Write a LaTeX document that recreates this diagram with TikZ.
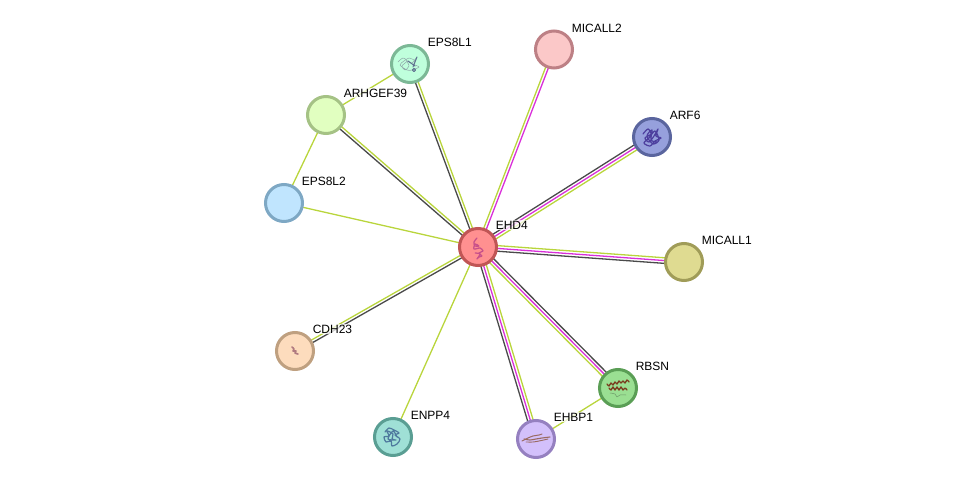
\documentclass[tikz,border=0pt]{standalone}
\usepackage{fontspec}
\setmainfont{Liberation Sans}
\usetikzlibrary{calc,backgrounds}
\definecolor{edark}{HTML}{4A4A4A}
\definecolor{emag}{HTML}{D92FD9}
\definecolor{eoli}{HTML}{B9D53C}
\definecolor{fa}{HTML}{FF9090}\definecolor{ba}{HTML}{C05555}
\definecolor{fb}{HTML}{BFFFDC}\definecolor{bb}{HTML}{7CB896}
\definecolor{fc}{HTML}{FBC8C8}\definecolor{bc}{HTML}{BD8085}
\definecolor{fd}{HTML}{96A0DC}\definecolor{bd}{HTML}{5A659E}
\definecolor{fe}{HTML}{E1FFC0}\definecolor{be}{HTML}{A5C285}
\definecolor{ff}{HTML}{C0E5FE}\definecolor{bf}{HTML}{7EA8C4}
\definecolor{fg}{HTML}{DFDB91}\definecolor{bg}{HTML}{A09C58}
\definecolor{fh}{HTML}{9ADF92}\definecolor{bh}{HTML}{5A9E55}
\definecolor{fi}{HTML}{D3C0FB}\definecolor{bi}{HTML}{9580C0}
\definecolor{fj}{HTML}{9FE0D6}\definecolor{bj}{HTML}{5A9E93}
\definecolor{fk}{HTML}{FDDCBD}\definecolor{bk}{HTML}{BFA080}
\definecolor{sa}{HTML}{C8508A}\definecolor{sb}{HTML}{8FA6A8}\definecolor{sc}{HTML}{5F7290}
\definecolor{sd}{HTML}{4D3F9E}\definecolor{se}{HTML}{7A3B1E}\definecolor{sf}{HTML}{6E9A6A}
\definecolor{sg}{HTML}{9A6A62}\definecolor{sh}{HTML}{4F7A9E}\definecolor{si}{HTML}{B07A80}
\tikzset{
  prot/.style 2 args={circle,draw=#2,fill=#1,line width=3pt,minimum size=37pt,inner sep=0pt,outer sep=0pt},
  lab/.style={anchor=west,inner sep=0.6pt,fill=white,fill opacity=0.75,text opacity=1,font=\fontsize{12}{12}\selectfont,text=black},
  scrib/.style={line width=0.5pt,line join=round,line cap=round}
}
\newcommand{\edg}[4]{\draw[#3,line width=1.3pt] ($(#1)!#4pt!90:(#2)$) -- ($(#2)!#4pt!-90:(#1)$);}
\begin{document}
\begin{tikzpicture}[x=1pt,y=-1pt]
\useasboundingbox (0,0) rectangle (975,484);
\node[prot={fa}{ba}] (ehd) at (478,247) {};
\node[prot={fb}{bb}] (eps1) at (410,64) {};
\node[prot={fc}{bc}] (mic2) at (554,49.5) {};
\node[prot={fd}{bd}] (arf) at (652,137) {};
\node[prot={fe}{be}] (arh) at (326,115) {};
\node[prot={ff}{bf}] (eps2) at (284,203) {};
\node[prot={fg}{bg}] (mic1) at (684,262) {};
\node[prot={fh}{bh}] (rbs) at (618,388) {};
\node[prot={fi}{bi}] (ehb) at (536,439) {};
\node[prot={fj}{bj}] (enp) at (393,437) {};
\node[prot={fk}{bk}] (cdh) at (295,351) {};
\begin{pgfonlayer}{background}
\edg{eps1}{arh}{eoli}{0}
\edg{arh}{eps2}{eoli}{0}
\edg{rbs}{ehb}{eoli}{0}
\edg{ehd}{eps2}{eoli}{0}
\edg{ehd}{enp}{eoli}{0}
\edg{ehd}{arh}{edark}{1.4}
\edg{ehd}{arh}{eoli}{-1.4}
\edg{ehd}{eps1}{edark}{1.4}
\edg{ehd}{eps1}{eoli}{-1.4}
\edg{ehd}{mic2}{eoli}{1.4}
\edg{ehd}{mic2}{emag}{-1.4}
\edg{ehd}{cdh}{eoli}{-1.4}
\edg{ehd}{cdh}{edark}{1.4}
\edg{ehd}{arf}{edark}{2.8}
\edg{ehd}{arf}{emag}{0}
\edg{ehd}{arf}{eoli}{-2.8}
\edg{ehd}{mic1}{eoli}{2.8}
\edg{ehd}{mic1}{emag}{0}
\edg{ehd}{mic1}{edark}{-2.8}
\edg{ehd}{rbs}{edark}{2.8}
\edg{ehd}{rbs}{emag}{0}
\edg{ehd}{rbs}{eoli}{-2.8}
\edg{ehd}{ehb}{edark}{-2.8}
\edg{ehd}{ehb}{emag}{0}
\edg{ehd}{ehb}{eoli}{2.8}
\end{pgfonlayer}
% protein glyphs
\draw[scrib,color=sa,line width=1.3pt,dash pattern=on 1.2pt off 0.5pt,shift={(478,248)}] plot[smooth] coordinates {(-1,-10)(-4,-6)(-3,-2)(1,-2)(-3,-4)(-4,1)(2,0)(5,3)(1,5)(4,8)(1,9)(-1,11)(2,6)(-3,5)};
\draw[scrib,color=sb,shift={(410,64)}] plot[smooth] coordinates {(-12,-2)(-7,-6)(-3,-3)(-8,2)(-5,6)(-1,2)(-3,-3)(2,-1)(7,-7)(4,0)(9,3)(2,6)(-3,6)(-10,1)(-6,-3)(-1,-6)(4,-4)};
\draw[scrib,color=sc,line width=1pt,shift={(410,64)}] (-2,-3) -- (5,2) (7,-7) -- (3,3) (4,6) circle (1.6);
\draw[scrib,color=sd,line width=1.2pt,shift={(652,137)}] plot[smooth] coordinates {(-9,-3)(-4,-8)(-1,-3)(-7,1)(-3,5)(2,-1)(6,-8)(4,-1)(9,1)(3,4)(-2,9)(-8,6)(-3,1)(3,-6)(7,3)(1,7)(-5,-1)(0,-7)(-1,3)(5,5)};
\draw[scrib,color=se,line width=1.3pt,shift={(618,388)}] plot[smooth] coordinates {(-11,-4)(-9,-2)(-7,-5)(-5,-3)(-3,-6)(-1,-4)(1,-7)(3,-5)(5,-7)(7,-5)(9,-8)(11,-6)};
\draw[scrib,color=se,line width=1.3pt,shift={(618,388)}] plot[smooth] coordinates {(-9,0)(-7,2)(-5,-1)(-3,2)(-1,-1)(1,2)(3,-1)(5,2)(7,0)(9,2)};
\draw[scrib,color=sf,shift={(618,388)}] plot[smooth] coordinates {(-8,5)(-3,6)(-1,9)(2,7)(8,7)};
\draw[scrib,color=sg,line width=1pt,shift={(536,439)}] plot[smooth] coordinates {(-14,2)(-8,-1)(-3,-3)(3,-4)(6,-5)};
\draw[scrib,color=sg,line width=1.1pt,shift={(536,439)}] plot[smooth] coordinates {(-12,0)(-6,1)(0,0)(6,-1)(14,-2)};
\draw[scrib,color=sg,line width=0.9pt,shift={(536,439)}] plot[smooth] coordinates {(-10,3)(-3,3)(3,2)(12,0)};
\draw[scrib,color=sh,line width=1.2pt,shift={(392,436)}] plot[smooth] coordinates {(-7,-4)(-3,-8)(2,-6)(7,-3)(3,-1)(8,3)(5,8)(0,10)(-1,5)(-6,6)(-8,1)(-3,0)(-5,-5)(1,-2)(0,3)(4,4)(-4,3)(1,-5)(5,1)};
\draw[scrib,color=si,line width=1.6pt,shift={(295,351)}] plot[smooth] coordinates {(-3,-4)(-1,-2)(-2,0)(1,0)(0,2)(3,3)};
% labels
\node[lab] (lehd) at (495,225) {EHD4};
\node[lab] (leps1) at (427,42) {EPS8L1};
\node[lab] (lmic2) at (571,28) {MICALL2};
\node[lab] (larf) at (669,115) {ARF6};
\node[lab] (larh) at (343,93) {ARHGEF39};
\node[lab] (leps2) at (301,181) {EPS8L2};
\node[lab] (lmic1) at (701,240) {MICALL1};
\node[lab] (lrbs) at (635,366) {RBSN};
\node[lab] (lehb) at (553,417) {EHBP1};
\node[lab] (lenp) at (410,415) {ENPP4};
\node[lab] (lcdh) at (312,329) {CDH23};
\end{tikzpicture}
\end{document}
